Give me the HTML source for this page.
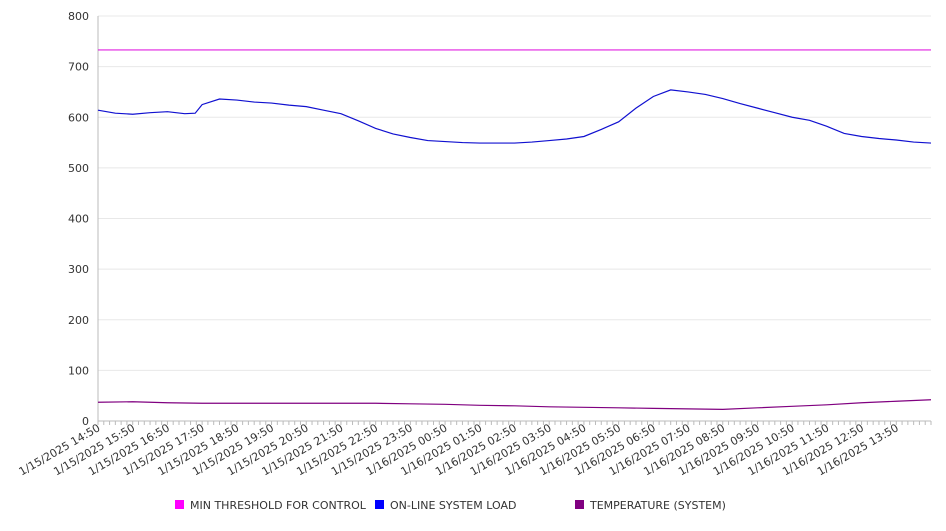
<!DOCTYPE html>
<html><head><meta charset="utf-8"><style>
body{margin:0;background:#fff;}
svg{font-family:"DejaVu Sans","Liberation Sans",sans-serif;}
</style></head><body>
<svg id="chart" width="946" height="526" xmlns="http://www.w3.org/2000/svg"></svg>
<script>
const yTicks=[0,100,200,300,400,500,600,700,800];
const xLabels=["1/15/2025 14:50","1/15/2025 15:50","1/15/2025 16:50","1/15/2025 17:50","1/15/2025 18:50","1/15/2025 19:50","1/15/2025 20:50","1/15/2025 21:50","1/15/2025 22:50","1/15/2025 23:50","1/16/2025 00:50","1/16/2025 01:50","1/16/2025 02:50","1/16/2025 03:50","1/16/2025 04:50","1/16/2025 05:50","1/16/2025 06:50","1/16/2025 07:50","1/16/2025 08:50","1/16/2025 09:50","1/16/2025 10:50","1/16/2025 11:50","1/16/2025 12:50","1/16/2025 13:50"];
// half-hour samples, hours 0..24
const loadHours=[0,0.5,1,1.5,2,2.5,2.8,3,3.5,4,4.5,5,5.5,6,6.5,7,7.5,8,8.5,9,9.5,10,10.5,11,11.5,12,12.5,13,13.5,14,14.5,15,15.5,16,16.5,17,17.5,18,18.5,19,19.5,20,20.5,21,21.5,22,22.5,23,23.5,24];
const loadValues=[614,608,606,609,611,607,608,625,636,634,630,628,624,621,614,607,593,578,567,560,554,552,550,549,549,549,551,554,557,562,576,591,618,641,654,650,645,637,627,618,609,600,594,582,568,562,558,555,551,549];
const thresholdValue=733;
const tempHours=[0,1,2,3,4,5,6,7,8,9,10,11,12,13,14,15,16,17,18,19,20,21,22,23,24];
const tempValues=[37,38,36,35,35,35,35,35,35,34,33,31,30,28,27,26,25,24,23,26,29,32,36,39,42];
const X0=98,X1=931,Y0=421,Y1=16,HRS=24;
const xs=h=>X0+(X1-X0)*h/HRS;
const ys=v=>Y0-(Y0-Y1)*v/800;
const svg=document.getElementById('chart');
const NS="http://www.w3.org/2000/svg";
function mk(t,a,p){const e=document.createElementNS(NS,t);for(const k in a)e.setAttribute(k,a[k]);(p||svg).appendChild(e);return e;}
yTicks.forEach(v=>{
 if(v>0){const g=mk('line',{x1:X0,x2:X1,y1:ys(v),y2:ys(v),stroke:'#e8e8e8','stroke-width':1});
 
 }
 const t=mk('text',{x:89,y:ys(v)+4,'text-anchor':'end','font-size':11,fill:'#333'});t.textContent=v;
 
 
});
const ax=mk('path',{d:`M${X0},${Y1}V${Y0}H${X1}`,stroke:'#bbb',fill:'none'});


for(let i=0;i<=HRS*6;i++){const x=xs(i/6);const tk=mk('line',{x1:x,x2:x,y1:Y0,y2:Y0+4,stroke:'#bbb'});
 
 }
xLabels.forEach((s,i)=>{const x=xs(i)+3,y=430;const t=mk('text',{transform:`translate(${x},${y}) rotate(-30)`,'text-anchor':'end','font-size':11,fill:'#333'});t.textContent=s;
 
 });
const th=mk('line',{x1:X0,x2:X1,y1:ys(thresholdValue),y2:ys(thresholdValue),stroke:'#e020e0','stroke-width':1.2});


const ld=mk('polyline',{points:loadHours.map((h,i)=>xs(h)+','+ys(loadValues[i])).join(' '),fill:'none',stroke:'#1010d0','stroke-width':1.2});


const tp=mk('polyline',{points:tempHours.map((h,i)=>xs(h)+','+ys(tempValues[i])).join(' '),fill:'none',stroke:'#800080','stroke-width':1.2});


[["#ff00ff","MIN THRESHOLD FOR CONTROL",175],["#0000ff","ON-LINE SYSTEM LOAD",375],["#800080","TEMPERATURE (SYSTEM)",575]].forEach(([c,s,x])=>{
 const g=mk('g',{});
 
 
 mk('rect',{x:x,y:500,width:9,height:9,fill:c},g);
 const t=mk('text',{x:x+15,y:509,'font-size':11,fill:'#333'},g);t.textContent=s;
});
</script>
</body></html>
